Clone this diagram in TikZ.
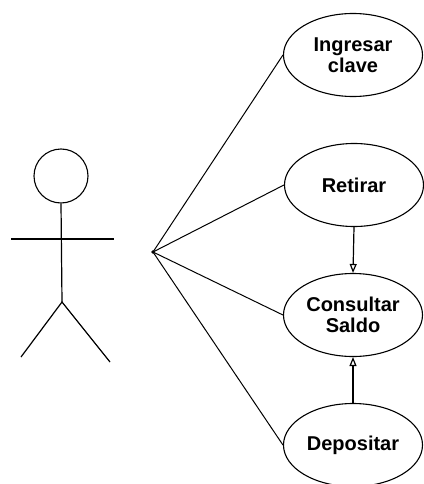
\documentclass[tikz,border=0pt]{standalone}
\usepackage{fontspec}
\setmainfont{Liberation Sans}
\usetikzlibrary{shapes.geometric,arrows.meta}
\begin{document}
\begin{tikzpicture}[x=1pt,y=-1pt,
  usecase/.style={ellipse,draw,line width=1.1pt,minimum width=139pt,minimum height=83pt,inner sep=0pt,align=center,font=\fontsize{20}{21}\selectfont\bfseries},
  body/.style={line width=1.2pt},
  assoc/.style={line width=1pt},
  incl/.style={line width=1.2pt,-{Triangle[open,length=9pt,width=7pt]}}]
\useasboundingbox (0,0) rectangle (423,484);
% actor
\node[circle,draw,line width=1.1pt,minimum size=54pt,inner sep=0pt] (head) at (61,176) {};
\coordinate (hip) at (62,302);
\coordinate (armL) at (11,239);
\coordinate (armR) at (114,239);
\coordinate (footL) at (21,357);
\coordinate (footR) at (110,362);
\draw[body] (head.south) -- (hip);
\draw[body] (armL) -- (armR);
\draw[body] (footL) -- (hip) -- (footR);
% hub
\coordinate (hub) at (153,252);
\fill (hub) circle (1.8pt);
% use cases
\node[usecase] (ing) at (353,55) {Ingresar\\clave};
\node[usecase] (ret) at (354,185) {Retirar};
\node[usecase] (con) at (353,315) {Consultar\\Saldo};
\node[usecase] (dep) at (353,445) {Depositar};
\draw[assoc] (hub) -- (ing.west);
\draw[assoc] (hub) -- (ret.west);
\draw[assoc] (hub) -- (con.west);
\draw[assoc] (hub) -- (dep.west);
\draw[incl] (ret.south) -- (con.north);
\draw[incl] (dep.north) -- (con.south);
\end{tikzpicture}
\end{document}
